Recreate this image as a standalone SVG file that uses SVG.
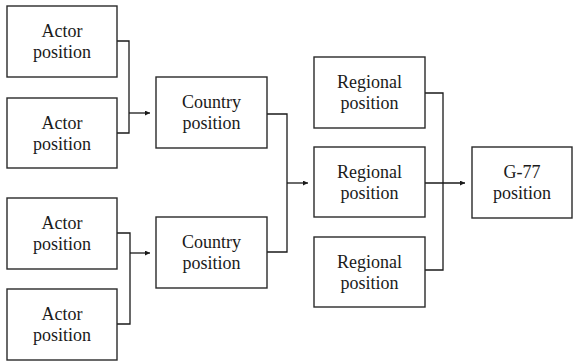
<svg xmlns="http://www.w3.org/2000/svg" width="575" height="362" viewBox="0 0 575 362">
  <style>
    .box { fill: #fff; stroke: #2a2a2a; stroke-width: 1.4; }
    .wire { fill: none; stroke: #1a1a1a; stroke-width: 1.3; }
  </style>
  <defs>
    <marker id="arrow" viewBox="0 0 6 6" refX="6" refY="3" markerWidth="5" markerHeight="5" markerUnits="userSpaceOnUse" orient="auto">
      <path d="M0,0 L6,3 L0,6 z" fill="#1a1a1a"/>
    </marker>
  </defs>
  <rect width="575" height="362" fill="#fff"/>

  <!-- elbow connectors merging each pair/triple into the next level -->
  <g id="connectors">
    <path class="wire" d="M117,41 H129 V133 H117"/>
    <path class="wire" d="M129,113 H150" marker-end="url(#arrow)"/>
    <path class="wire" d="M117,233 H130 V324 H117"/>
    <path class="wire" d="M130,253 H150" marker-end="url(#arrow)"/>
    <path class="wire" d="M267,114 H287 V252 H267"/>
    <path class="wire" d="M287,183 H308" marker-end="url(#arrow)"/>
    <path class="wire" d="M425,93 H443 V270 H425"/>
    <path class="wire" d="M425,183 H465" marker-end="url(#arrow)"/>
  </g>

  <g id="nodes" font-family="Liberation Serif" font-size="18" fill="#1a1a1a" text-anchor="middle">
    <g id="actor1"><rect class="box" x="7" y="6" width="110" height="71"/><text x="62" y="37">Actor</text><text x="62" y="58">position</text></g>
    <g id="actor2"><rect class="box" x="7" y="98" width="110" height="70"/><text x="62" y="129">Actor</text><text x="62" y="150">position</text></g>
    <g id="actor3"><rect class="box" x="7" y="198" width="110" height="71"/><text x="62" y="229">Actor</text><text x="62" y="250">position</text></g>
    <g id="actor4"><rect class="box" x="7" y="289" width="110" height="71"/><text x="62" y="320">Actor</text><text x="62" y="341">position</text></g>

    <g id="country1"><rect class="box" x="156" y="77" width="111" height="71"/><text x="211.5" y="108">Country</text><text x="211.5" y="129">position</text></g>
    <g id="country2"><rect class="box" x="156" y="217" width="111" height="71"/><text x="211.5" y="248">Country</text><text x="211.5" y="269">position</text></g>

    <g id="regional1"><rect class="box" x="314" y="57" width="111" height="71"/><text x="369.5" y="88">Regional</text><text x="369.5" y="109">position</text></g>
    <g id="regional2"><rect class="box" x="314" y="147" width="111" height="70"/><text x="369.5" y="178">Regional</text><text x="369.5" y="199">position</text></g>
    <g id="regional3"><rect class="box" x="314" y="237" width="111" height="70"/><text x="369.5" y="268">Regional</text><text x="369.5" y="289">position</text></g>

    <g id="g77"><rect class="box" x="472" y="147" width="100" height="71"/><text x="522" y="178">G-77</text><text x="522" y="199">position</text></g>
  </g>
</svg>
